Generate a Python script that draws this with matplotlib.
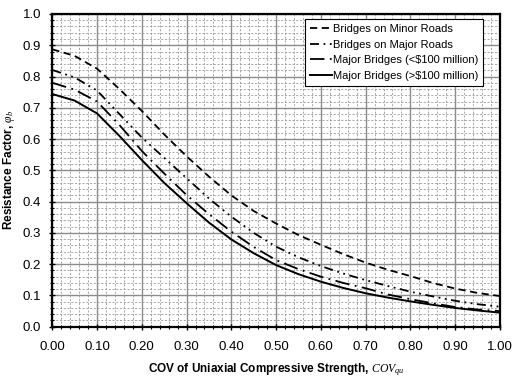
import matplotlib.pyplot as plt
from matplotlib.ticker import MultipleLocator

plt.rcParams['font.family'] = ['Liberation Sans', 'DejaVu Sans']
plt.rcParams['mathtext.fontset'] = 'custom'
plt.rcParams['mathtext.it'] = 'Liberation Serif:italic'
plt.rcParams['mathtext.rm'] = 'Liberation Serif'

cov = [0.00, 0.05, 0.10, 0.15, 0.20, 0.25, 0.30, 0.35, 0.40, 0.45, 0.50,
       0.55, 0.60, 0.65, 0.70, 0.75, 0.80, 0.85, 0.90, 0.95, 1.00]
minor_roads = [0.887, 0.866, 0.825, 0.760, 0.690, 0.615, 0.545, 0.480, 0.420, 0.370, 0.330,
               0.293, 0.262, 0.232, 0.205, 0.182, 0.162, 0.140, 0.122, 0.108, 0.098]
major_roads = [0.821, 0.797, 0.755, 0.680, 0.605, 0.540, 0.475, 0.410, 0.352, 0.300, 0.256,
               0.222, 0.194, 0.170, 0.149, 0.130, 0.112, 0.097, 0.083, 0.072, 0.064]
major_lt100 = [0.780, 0.758, 0.720, 0.645, 0.562, 0.490, 0.421, 0.360, 0.304, 0.255, 0.213,
               0.184, 0.160, 0.140, 0.123, 0.103, 0.088, 0.075, 0.063, 0.055, 0.050]
major_gt100 = [0.744, 0.723, 0.682, 0.610, 0.533, 0.460, 0.395, 0.333, 0.279, 0.235, 0.197,
               0.168, 0.144, 0.124, 0.107, 0.093, 0.081, 0.070, 0.060, 0.052, 0.045]
labels = ['Bridges on Minor Roads', 'Bridges on Major Roads',
          'Major Bridges (<$100 million)', 'Major Bridges (>$100 million)']

fig = plt.figure(figsize=(5.18, 3.81), dpi=100)
ax = fig.add_axes([0.101, 0.1425, 0.864, 0.8208])

ax.plot(cov, minor_roads, c='k', lw=1.3, ls=(0, (4, 2.5)), label=labels[0])
ax.plot(cov, major_roads, c='k', lw=1.3, ls=(0, (5, 2.5, 1, 2.5, 1, 2.5)), label=labels[1])
ax.plot(cov, major_lt100, c='k', lw=1.3, ls=(0, (8, 3, 1, 3)), label=labels[2])
ax.plot(cov, major_gt100, c='k', lw=1.4, ls='-', label=labels[3])

ax.set_xlim(0, 1)
ax.set_ylim(0, 1)
ax.xaxis.set_major_locator(MultipleLocator(0.1))
ax.xaxis.set_minor_locator(MultipleLocator(0.02))
ax.yaxis.set_major_locator(MultipleLocator(0.1))
ax.yaxis.set_minor_locator(MultipleLocator(0.02))
ax.xaxis.set_major_formatter(plt.FormatStrFormatter('%.2f'))
ax.yaxis.set_major_formatter(plt.FormatStrFormatter('%.1f'))

ax.grid(which='major', color='#8c8c8c', lw=1.0, ls='-')
ax.grid(which='minor', color='#9a9a9a', lw=0.6, ls=(0, (2.5, 2)))
ax.set_axisbelow(True)

for s in ax.spines.values():
    s.set_linewidth(1.6)
ax.tick_params(which='major', length=4, width=1.0, labelsize=9.5, direction='inout')
ax.tick_params(which='minor', length=3, width=0.8, direction='inout')
ax.tick_params(axis='x', pad=8)
ax.tick_params(axis='y', pad=6)

ax.set_xlabel('COV of Uniaxial Compressive Strength, $COV_{qu}$', fontsize=8.5,
              fontweight='bold', labelpad=6)
ax.set_ylabel(r'Resistance Factor, $\varphi_b$', fontsize=8.5, fontweight='bold', labelpad=4)

leg = ax.legend(loc='upper right', bbox_to_anchor=(0.963, 0.984), fontsize=8,
                fancybox=False, framealpha=1, edgecolor='k', handlelength=2.0,
                handletextpad=0.1, borderpad=0.45, labelspacing=0.5, borderaxespad=0)
leg.get_frame().set_linewidth(0.8)

plt.savefig('out.png', dpi=100)
